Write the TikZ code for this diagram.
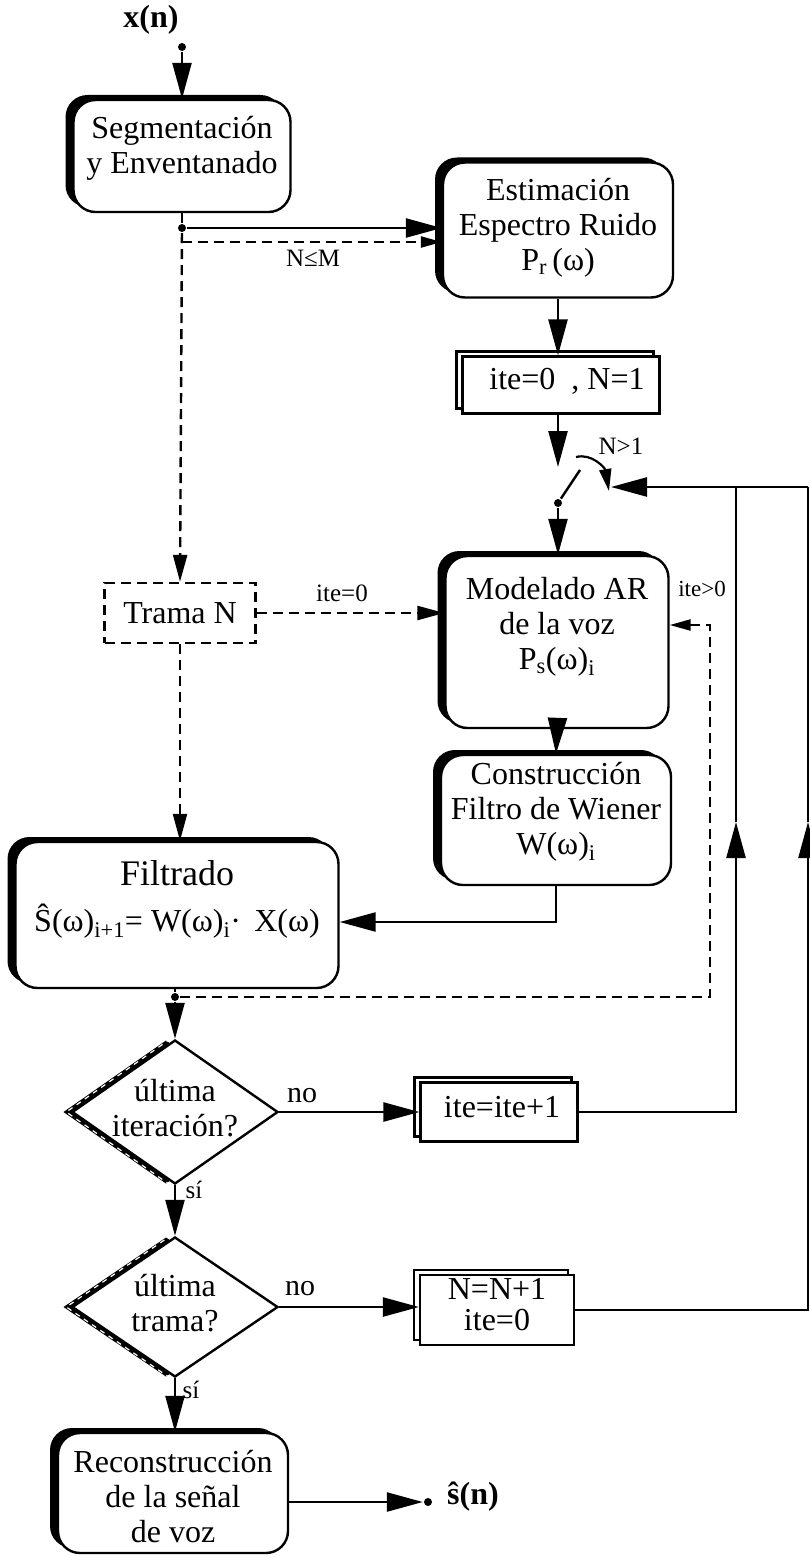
\documentclass[tikz,border=0pt]{standalone}
\usepackage{fontspec}
\setmainfont{Liberation Serif}
\usetikzlibrary{arrows.meta,shapes.geometric,shadows}
\begin{document}
\begin{tikzpicture}[x=1pt,y=-1pt,
  line width=2.4pt,
  txt/.style={font=\fontsize{32}{35}\selectfont, align=center, inner sep=0pt},
  small/.style={font=\fontsize{25}{28}\selectfont, inner sep=0pt},
  rbox/.style={draw, fill=white, rounded corners=22pt, line width=2.4pt,
     general shadow={fill=black, shadow xshift=-8pt, shadow yshift=5pt}},
  stackbox/.style={draw, fill=white, line width=2.2pt,
     general shadow={draw=black, fill=white, line width=2.2pt, shadow xshift=-6pt, shadow yshift=5pt}},
  dbox/.style={draw, dash pattern=on 10pt off 6pt, line width=2.4pt},
  decision/.style={draw, diamond, fill=white, inner sep=0pt, line width=2.4pt,
     general shadow={fill=black, shadow xshift=-9pt}},
  hatch/.style={white, line width=1.2pt, dash pattern=on 5pt off 5pt},
  arr/.style={-{Triangle[length=36pt,width=19pt]}},
  darr/.style={dash pattern=on 10pt off 6pt, -{Triangle[length=27pt,width=14pt]}},
  darrs/.style={dash pattern=on 10pt off 6pt, -{Triangle[length=21pt,width=11pt]}},
  dot/.style={circle, fill=black, inner sep=0pt, minimum size=8pt},
]
\fill[white] (0,0) rectangle (810,1557);
\useasboundingbox (0,0) rectangle (810,1557);

% input and segmentation
\node[font=\bfseries\fontsize{32}{35}\selectfont, inner sep=0pt] (xn) at (151,20) {x(n)};
\node[dot] (xdot) at (182,47) {};
\node[rbox, minimum width=217pt, minimum height=112pt] (seg) at (182,156) {};
\node[txt] (segT) at (182,148) {Segmentación\\y Enventanado};
\draw[arr] (xdot) -- (seg.north);

% noise spectrum estimation
\node[rbox, minimum width=230pt, minimum height=135pt] (est) at (558,230) {};
\node[txt] (estT) at (558,228) {Estimación\\Espectro Ruido\\P\textsubscript{r}\,(ω)};
\node[dot] (sdot) at (182,228) {};
\coordinate (dsplit) at (182,242);
\draw (seg.south) -- (sdot);
\draw[arr] (sdot) -- (sdot -| est.west);
\draw[darrs] (dsplit) -- (dsplit -| est.west);
\node[small] (nm) at (313,258) {N≤M};

% initialisation
\node[stackbox, minimum width=197pt, minimum height=57pt] (init) at (561,385) {};
\node[txt] (initT) at (567,381) {ite=0\ \ , N=1};
\draw[arr] (est.south) -- (est.south |- init.north);

% frame switch
\coordinate (swtop) at (558,467);
\node[dot] (swdot) at (558,503) {};
\coordinate (blade) at (580,470);
\coordinate (arcS) at (576,457);
\coordinate (arcE) at (609,491);
\coordinate (inTip) at (611,487);
\coordinate (j1) at (736,487);
\coordinate (j2) at (808,487);
\draw[arr] (init.south -| est.south) -- (swtop);
\draw (swdot) -- (blade);
\draw[line width=2.2pt, -{Triangle[length=22pt,width=12pt]}] (arcS) .. controls (592,453) and (605,468) .. (arcE);
\node[small] (ngt) at (621,446) {N>1};
\draw[arr] (j2) -- (inTip);

% current frame and AR model
\node[dbox, minimum width=151pt, minimum height=60pt, txt] (trama) at (180,613) {Trama N};
\draw[darr] (sdot) -- (trama.north);
\node[rbox, minimum width=223pt, minimum height=172pt] (mod) at (557,642) {};
\node[txt] (modT) at (557,627) {Modelado AR\\de la voz\\P\textsubscript{s}(ω)\textsubscript{i}};
\draw[arr] (swdot) -- (swdot |- mod.north);
\draw[darr] (trama.east) -- (trama.east -| mod.west);
\node[small] (ite0) at (342,593) {ite=0};

% Wiener filter
\node[rbox, minimum width=230pt, minimum height=130pt] (cons) at (556,820) {};
\node[txt] (consT) at (556,812) {Construcción\\Filtro de Wiener\\W(ω)\textsubscript{i}};
\draw[arr] (mod.south) -- (cons.north);

% filtering
\node[rbox, minimum width=323pt, minimum height=146pt] (filt) at (177,915) {};
\node[font=\fontsize{36}{38}\selectfont, inner sep=0pt] (filtT) at (177,873) {Filtrado};
\node[font=\fontsize{32}{36}\selectfont, inner sep=0pt] (filtF) at (177,921) {Ŝ(ω)\textsubscript{i+1}= W(ω)\textsubscript{i}·\, X(ω)};
\coordinate (cturn) at (556,922);
\draw[arr] (cons.south) -- (cturn) -- (cturn -| filt.east);
\draw[darr] (trama.south) -- (trama.south |- filt.north);

% iteration feedback (dashed)
\node[dot] (fdot) at (175,997) {};
\coordinate (fbR) at (710,997);
\coordinate (fbT) at (710,625);
\draw (fdot |- filt.south) -- (fdot);
\draw[darrs] (fdot) -- (fbR) -- (fbT) -- (fbT -| mod.east);
\node[small, font=\fontsize{23}{26}\selectfont] (itegt) at (702,589) {ite>0};

% last iteration?
\node[decision, minimum width=206pt, minimum height=144pt] (d1) at (175,1112) {};
\draw[hatch] ([xshift=-4.5pt]d1.south) -- ([xshift=-4.5pt]d1.west) -- ([xshift=-4.5pt]d1.north);
\node[txt] (d1T) at (175,1108) {última\\iteración?};
\draw[arr] (fdot) -- (d1.north);
\node[stackbox, minimum width=157pt, minimum height=59pt] (inci) at (499,1112) {};
\node[txt] (inciT) at (502,1107) {ite=ite+1};
\draw[arr] (d1.east) -- (d1.east -| inci.west);
\node[font=\fontsize{30}{34}\selectfont, inner sep=0pt] (no1) at (302,1096) {no};
\coordinate (r1) at (736,1112);
\coordinate (m1) at (736,822);
\draw[arr] (inci.east) -- (r1) -- (m1);
\draw (m1) -- (j1);
\node[small] (si1) at (194,1190) {sí};

% last frame?
\node[decision, minimum width=206pt, minimum height=140pt] (d2) at (175,1307) {};
\draw[hatch] ([xshift=-4.5pt]d2.south) -- ([xshift=-4.5pt]d2.west) -- ([xshift=-4.5pt]d2.north);
\node[txt] (d2T) at (175,1303) {última\\trama?};
\draw[arr] (d1.south) -- (d2.north);
\node[stackbox, minimum width=154pt, minimum height=70pt] (incn) at (497,1310) {};
\node[txt, font=\fontsize{32}{31}\selectfont] (incnT) at (497,1305) {N=N+1\\ite=0};
\draw[arr] (d2.east) -- (d2.east -| incn.west);
\node[font=\fontsize{30}{34}\selectfont, inner sep=0pt] (no2) at (300,1289) {no};
\coordinate (r2) at (808,1310);
\coordinate (m2) at (808,822);
\draw[arr] (incn.east) -- (r2) -- (m2);
\draw (m2) -- (j2);
\node[small] (si2) at (191,1390) {sí};

% reconstruction and output
\node[rbox, minimum width=230pt, minimum height=120pt] (rec) at (173,1493) {};
\node[txt] (recT) at (173,1497) {Reconstrucción\\de la señal\\de voz};
\draw[arr] (d2.south) -- (d2.south |- rec.north);
\node[dot] (odot) at (428,1502) {};
\draw[arr] (rec.east |- odot) -- (odot.west);
\node[font=\bfseries\fontsize{32}{35}\selectfont, inner sep=0pt] (sn) at (473,1497) {ŝ(n)};
\end{tikzpicture}
\end{document}
